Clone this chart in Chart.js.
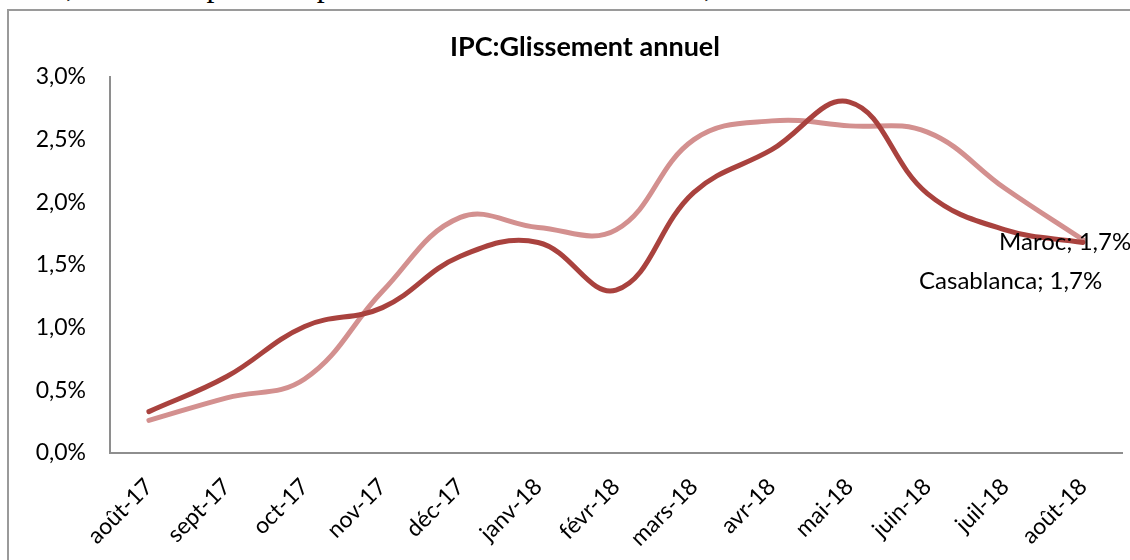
<!DOCTYPE html>
<html lang="fr">
<head>
<meta charset="utf-8">
<title>IPC: Glissement annuel</title>
<script src="https://cdn.jsdelivr.net/npm/chart.js@4/dist/chart.umd.min.js"></script>
<style>
    html, body { margin: 0; padding: 0; background: #fff; overflow: hidden; }
    #page { position: relative; width: 1130px; height: 560px; overflow: hidden; }
    #texteHaut {
        position: absolute; left: 12px; top: -31px; white-space: nowrap;
        font-family: "Liberation Serif", serif; font-size: 32px; line-height: 32px; color: #000;
    }
    #cadre {
        position: absolute; left: 7px; top: 9px; width: 1140px; height: 600px;
        border: 2px solid #9a9a9a; box-sizing: border-box;
    }
    #graphique { position: absolute; left: 0; top: 0; }
</style>
</head>
<body>
<div id="page">
    <div id="texteHaut">de 3,8% et des prix des produits non alimentaires de 1,7%.</div>
    <div id="cadre"></div>
    <canvas id="graphique" width="1130" height="560"></canvas>
</div>
<script>
const mois = ['août-17', 'sept-17', 'oct-17', 'nov-17', 'déc-17', 'janv-18', 'févr-18',
    'mars-18', 'avr-18', 'mai-18', 'juin-18', 'juil-18', 'août-18'];

// glissement annuel en %
const maroc = [0.33, 0.61, 1.01, 1.16, 1.57, 1.68, 1.30, 2.08, 2.42, 2.80, 2.07, 1.78, 1.68];
const casablanca = [0.26, 0.44, 0.59, 1.29, 1.88, 1.80, 1.78, 2.50, 2.65, 2.61, 2.56, 2.11, 1.70];

const etiquettesFin = ['Maroc; 1,7%', 'Casablanca; 1,7%'];
const ticksY = [0, 0.5, 1, 1.5, 2, 2.5, 3];

const fmtPct = (v) => v.toFixed(1).replace('.', ',') + '%';

// titre + étiquettes de fin de série
const pluginTextes = {
    id: 'pluginTextes',
    afterDatasetsDraw(chart) {
        const ctx = chart.ctx;
        ctx.save();
        ctx.fillStyle = '#000';
        ctx.font = 'bold 27px Lato';
        ctx.textAlign = 'center';
        ctx.textBaseline = 'middle';
        ctx.fillText('IPC:Glissement annuel', 585, 47);

        ctx.font = '24px Lato';
        ctx.textAlign = 'left';
        const ptM = chart.getDatasetMeta(0).data[maroc.length - 1];
        const ptC = chart.getDatasetMeta(1).data[casablanca.length - 1];
        ctx.fillText(etiquettesFin[0], ptM.x - 84, ptM.y);
        ctx.fillText(etiquettesFin[1], ptC.x - 164, ptC.y + 41);
        ctx.restore();
    }
};

new Chart(document.getElementById('graphique'), {
    type: 'line',
    data: {
        labels: mois,
        datasets: [
            {
                label: 'Maroc',
                data: maroc,
                borderColor: '#a9423e',
                borderWidth: 5,
                tension: 0.4,
                pointRadius: 0,
                borderCapStyle: 'round'
            },
            {
                label: 'Casablanca',
                data: casablanca,
                borderColor: '#d3908f',
                borderWidth: 5,
                tension: 0.4,
                pointRadius: 0,
                borderCapStyle: 'round'
            }
        ]
    },
    options: {
        responsive: false,
        animation: false,
        layout: { padding: { top: 77, left: 0, right: 8, bottom: 0 } },
        plugins: {
            legend: { display: false },
            tooltip: { enabled: false },
            title: { display: false }
        },
        scales: {
            x: {
                offset: true,
                grid: { display: false, drawTicks: false },
                border: { color: '#8e8e8e', width: 2 },
                ticks: {
                    color: '#000',
                    font: { family: 'Lato', size: 23 },
                    minRotation: 45,
                    maxRotation: 45,
                    padding: 20,
                    autoSkip: false
                },
                afterFit: (scale) => { scale.height = 107; }
            },
            y: {
                min: 0,
                max: 3,
                grid: { display: false, drawTicks: false },
                border: { color: '#8e8e8e', width: 2 },
                afterBuildTicks: (scale) => { scale.ticks = ticksY.map((v) => ({ value: v })); },
                ticks: {
                    color: '#000',
                    font: { family: 'Lato', size: 23 },
                    padding: 24,
                    callback: (v) => fmtPct(v)
                },
                afterFit: (scale) => { scale.width = 110; }
            }
        }
    },
    plugins: [pluginTextes]
});
</script>
</body>
</html>
